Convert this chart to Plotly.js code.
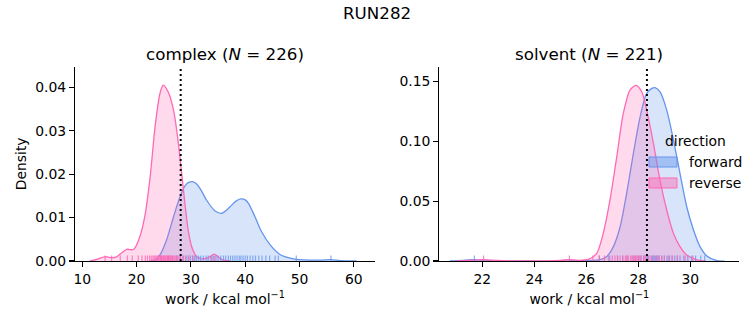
<!DOCTYPE html>
<html>
<head>
<meta charset="utf-8">
<script src="https://cdn.plot.ly/plotly-3.0.1.min.js"></script>
<style>html,body{margin:0;padding:0;background:#fff;}#chart{width:753px;height:325px;}</style>
</head>
<body>
<div id="chart"></div>
<script>
// ---------- data ----------
const suptitle = "RUN282";
const panelNames = ["complex", "solvent"];
const panelN = [226, 221];
const directions = ["forward", "reverse"];

// KDE density curves (work in kcal/mol, density)
const complexFwdX = [22.5, 23.4, 24.3, 25.5, 26.8, 28.0, 28.9, 29.6, 30.3, 31.0, 31.7, 32.9, 34.4, 35.7, 37.2, 38.3, 39.2, 40.0, 40.6, 41.8, 43.0, 44.6, 46.4, 48.9, 51.9, 54.0, 55.8, 57.5, 60.5];
const complexFwdY = [0, 0.0002, 0.0014, 0.0048, 0.0102, 0.0148, 0.0173, 0.0181, 0.0183, 0.0178, 0.0167, 0.0140, 0.0116, 0.0110, 0.0125, 0.0138, 0.0143, 0.0141, 0.0133, 0.0102, 0.0068, 0.0037, 0.0015, 0.0005, 0.0002, 0.0002, 0.0003, 0.0001, 0];
const complexRevX = [11.4, 13.0, 14.2, 15.2, 16.2, 17.4, 18.2, 18.9, 19.5, 20.6, 21.5, 22.5, 23.4, 24.3, 24.9, 25.8, 26.8, 27.7, 28.3, 28.9, 29.5, 30.15, 31.1, 32.3, 33.4, 34.25, 35.1, 35.7, 37.2];
const complexRevY = [0, 0.0005, 0.0010, 0.0008, 0.0009, 0.0020, 0.0027, 0.0026, 0.0027, 0.0056, 0.0102, 0.0194, 0.0309, 0.0386, 0.0405, 0.0390, 0.0348, 0.0271, 0.0202, 0.0133, 0.0071, 0.0033, 0.0010, 0.0005, 0.0009, 0.0016, 0.0009, 0.0003, 0];
const solventFwdX = [20.76, 21.2, 21.65, 22.1, 22.6, 23.5, 25.0, 26.2, 26.53, 26.78, 27.04, 27.3, 27.55, 27.81, 28.07, 28.32, 28.52, 28.64, 28.83, 29.09, 29.35, 29.6, 29.86, 30.12, 30.37, 30.63, 31.02, 31.3];
const solventFwdY = [0, 0.0005, 0.0012, 0.0005, 0.0001, 0, 0, 0.0004, 0.0012, 0.0036, 0.012, 0.0286, 0.0565, 0.0899, 0.1205, 0.1400, 0.1441, 0.1447, 0.1413, 0.126, 0.101, 0.0732, 0.0453, 0.0259, 0.012, 0.0042, 0.0003, 0];
const solventRevX = [21.0, 21.5, 22.05, 22.6, 23.3, 24.5, 25.0, 25.35, 25.7, 26.1, 26.4, 26.65, 26.91, 27.17, 27.42, 27.68, 27.91, 28.13, 28.32, 28.58, 28.83, 29.09, 29.35, 29.6, 29.86, 30.25, 30.6];
const solventRevY = [0, 0.0005, 0.0012, 0.0004, 0.0001, 0.0001, 0.0005, 0.0012, 0.0006, 0.0015, 0.0064, 0.023, 0.051, 0.087, 0.123, 0.1427, 0.1466, 0.1413, 0.126, 0.0982, 0.0676, 0.0426, 0.023, 0.012, 0.005, 0.001, 0];

// rug (individual work values)
const complexFwdRug = [24.5, 25.8, 26.6, 27.4, 28.0, 28.6, 29.1, 29.5, 29.9, 30.3, 30.7, 31.0, 31.4, 31.8, 32.3, 32.8, 33.2, 33.7, 34.1, 34.6, 35.0, 35.5, 36.0, 36.4, 36.9, 37.3, 37.7, 38.1, 38.5, 38.9, 39.2, 39.6, 40.0, 40.4, 40.9, 41.4, 41.9, 42.5, 43.1, 43.8, 44.5, 45.5, 46.1, 49.4, 55.8];
const complexRevRug = [14.2, 15.4, 17.0, 18.3, 19.2, 20.3, 21.0, 21.6, 22.0, 22.4, 22.7, 23.0, 23.2, 23.4, 23.6, 23.8, 24.0, 24.1, 24.3, 24.4, 24.6, 24.7, 24.9, 25.0, 25.1, 25.3, 25.4, 25.6, 25.7, 25.9, 26.0, 26.2, 26.3, 26.5, 26.7, 26.9, 27.1, 27.3, 27.5, 27.8, 28.1, 28.5, 29.0, 29.6, 30.4, 33.8, 34.3];
const solventFwdRug = [21.7, 26.5, 26.9, 27.2, 27.4, 27.6, 27.8, 27.9, 28.0, 28.1, 28.2, 28.3, 28.35, 28.4, 28.5, 28.55, 28.6, 28.65, 28.7, 28.75, 28.8, 28.9, 29.0, 29.1, 29.2, 29.3, 29.4, 29.5, 29.6, 29.75, 29.9, 30.05, 30.2, 30.4, 30.55];
const solventRevRug = [22.05, 25.35, 26.25, 26.5, 26.7, 26.85, 27.0, 27.1, 27.2, 27.3, 27.4, 27.5, 27.55, 27.6, 27.7, 27.75, 27.8, 27.85, 27.9, 27.95, 28.0, 28.05, 28.1, 28.2, 28.25, 28.3, 28.4, 28.5, 28.6, 28.7, 28.8, 28.9, 29.0, 29.15, 29.3, 29.5, 29.8, 30.1];

// dotted reference lines (kcal/mol)
const refLines = [28.12, 28.33];

// axis ranges / ticks
const xRanges = [[8.66, 63.9], [20.35, 31.88]];
const yRanges = [[0, 0.04477], [0, 0.1622]];
const xDticks = [10, 2];
const yDticks = [0.01, 0.05];

// ---------- styling ----------
const W = 753, H = 325;
const FONT = "DejaVu Sans, sans-serif";
const lineCol = {forward: "#6495ED", reverse: "#FF69B4"};
const fillCol = {forward: "rgba(100,149,237,0.25)", reverse: "rgba(255,105,180,0.25)"};
const rugCol = {forward: "rgba(100,149,237,0.75)", reverse: "rgba(255,105,180,0.8)"};
const patchCol = {forward: "rgba(100,149,237,0.45)", reverse: "rgba(255,105,180,0.45)"};

const px2fx = p => p / W;
const px2fy = p => 1 - p / H;
const xDomains = [[px2fx(75), px2fx(375)], [px2fx(439.3), px2fx(739.3)]];
const yDomain = [px2fy(261), px2fy(66.7)];

const curves = [
  {panel: 0, dir: "forward", x: complexFwdX, y: complexFwdY},
  {panel: 0, dir: "reverse", x: complexRevX, y: complexRevY},
  {panel: 1, dir: "forward", x: solventFwdX, y: solventFwdY},
  {panel: 1, dir: "reverse", x: solventRevX, y: solventRevY}
];
const rugs = [
  {panel: 0, dir: "forward", v: complexFwdRug},
  {panel: 0, dir: "reverse", v: complexRevRug},
  {panel: 1, dir: "forward", v: solventFwdRug},
  {panel: 1, dir: "reverse", v: solventRevRug}
];
const axSuffix = ["", "2"];

const traces = curves.map(c => ({
  type: "scatter", mode: "lines",
  x: c.x, y: c.y,
  xaxis: "x" + axSuffix[c.panel], yaxis: "y" + axSuffix[c.panel],
  line: {color: lineCol[c.dir], width: 1.3, shape: "spline", smoothing: 0.8},
  fill: "tozeroy", fillcolor: fillCol[c.dir],
  name: c.dir, showlegend: false, hoverinfo: "skip"
}));

const shapes = [];
rugs.forEach(r => {
  r.v.forEach(v => {
    shapes.push({type: "line", xref: "x" + axSuffix[r.panel], yref: "y" + axSuffix[r.panel] + " domain",
      x0: v, x1: v, y0: 0, y1: 0.028, line: {color: rugCol[r.dir], width: 1.2}});
  });
});
refLines.forEach((v, i) => {
  shapes.push({type: "line", xref: "x" + axSuffix[i], yref: "y" + axSuffix[i] + " domain",
    x0: v, x1: v, y0: 0, y1: 1, line: {color: "#000", width: 2, dash: "2px,3px"}});
});

// legend (in solvent panel)
const annotations = [];
annotations.push({text: "direction", xref: "paper", yref: "paper", x: px2fx(695), y: px2fy(141),
  xanchor: "center", yanchor: "middle", showarrow: false, font: {family: FONT, size: 13.9, color: "#000"}});
directions.forEach((d, i) => {
  const yc = 162 + i * 21;
  shapes.push({type: "rect", xref: "paper", yref: "paper",
    x0: px2fx(649), x1: px2fx(677), y0: px2fy(yc - 5), y1: px2fy(yc + 5),
    fillcolor: patchCol[d], line: {color: lineCol[d], width: 1}});
  annotations.push({text: d, xref: "paper", yref: "paper", x: px2fx(687), y: px2fy(yc),
    xanchor: "left", yanchor: "middle", showarrow: false, font: {family: FONT, size: 13.9, color: "#000"}});
});

// titles
annotations.push({text: suptitle, xref: "paper", yref: "paper", x: px2fx(376.5), y: px2fy(13),
  xanchor: "center", yanchor: "middle", showarrow: false, font: {family: FONT, size: 16.7, color: "#000"}});
panelNames.forEach((n, i) => {
  const cx = (xDomains[i][0] + xDomains[i][1]) / 2;
  annotations.push({text: n + " (<i>N</i> = " + panelN[i] + ")", xref: "paper", yref: "paper",
    x: cx, y: px2fy(54), xanchor: "center", yanchor: "middle", showarrow: false,
    font: {family: FONT, size: 16.7, color: "#000"}});
});

function xaxis(i) {
  return {domain: xDomains[i], range: xRanges[i], dtick: xDticks[i], tick0: 0,
    showline: true, linecolor: "#000", linewidth: 1.1, mirror: false,
    ticks: "outside", ticklen: 5, tickwidth: 1.1, tickcolor: "#000",
    showgrid: false, zeroline: false, anchor: "y" + axSuffix[i],
    tickfont: {family: FONT, size: 13.9, color: "#000"},
    title: {text: "work / kcal mol<sup>−1</sup>", font: {family: FONT, size: 13.9, color: "#000"}, standoff: 8},
    automargin: false, fixedrange: true};
}
function yaxis(i) {
  const a = {domain: yDomain, range: yRanges[i], dtick: yDticks[i], tick0: 0, tickformat: ".2f",
    showline: true, linecolor: "#000", linewidth: 1.1, mirror: false,
    ticks: "outside", ticklen: 5, tickwidth: 1.1, tickcolor: "#000",
    showgrid: false, zeroline: false, anchor: "x" + axSuffix[i],
    tickfont: {family: FONT, size: 13.9, color: "#000"},
    automargin: false, fixedrange: true};
  if (i === 0) a.title = {text: "Density", font: {family: FONT, size: 13.9, color: "#000"}, standoff: 5};
  return a;
}

const layout = {
  width: W, height: H,
  margin: {l: 0, r: 0, t: 0, b: 0},
  paper_bgcolor: "#fff", plot_bgcolor: "#fff",
  font: {family: FONT, size: 13.9, color: "#000"},
  showlegend: false,
  xaxis: xaxis(0), yaxis: yaxis(0), xaxis2: xaxis(1), yaxis2: yaxis(1),
  shapes: shapes, annotations: annotations
};

Plotly.newPlot("chart", traces, layout, {staticPlot: true, displayModeBar: false});
</script>
</body>
</html>
